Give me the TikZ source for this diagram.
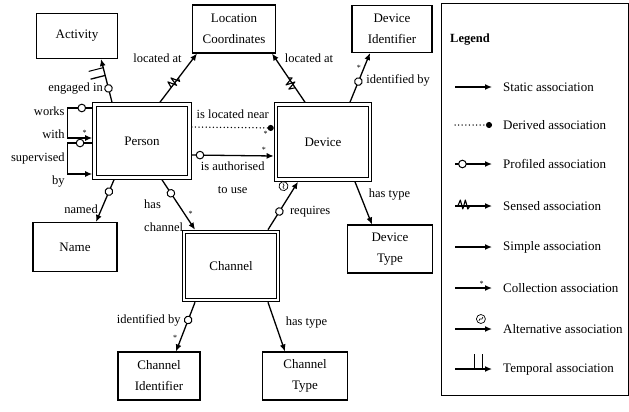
\documentclass[tikz,border=0pt]{standalone}
\usepackage{fontspec}
\setmainfont{Liberation Serif}
\usetikzlibrary{arrows.meta,positioning,decorations.markings}

\begin{document}
\begin{tikzpicture}[x=1pt, y=-1pt,
  ent/.style={rectangle, draw, line width=1.1pt, align=center, inner sep=1pt, font=\fontsize{13}{21}\selectfont},
  mainent/.style={ent, double, double distance=2.2pt, line width=1.2pt, outer sep=2.3pt},
  lbl/.style={inner sep=1pt, align=center, font=\fontsize{12.5}{23}\selectfont},
  many/.style={inner sep=0.5pt, font=\footnotesize},
  assoc/.style={line width=1.3pt, -{Latex[length=7pt,width=6pt]}},
  derived/.style={line width=1.5pt, line cap=round, dash pattern=on 0pt off 3.6pt, -{Circle[length=6pt]}},
  prof/.style={postaction={decorate, decoration={markings, mark=at position #1 with {\draw[-, solid, line width=1pt, fill=white] (0pt,0pt) circle (3.8pt);}}}},
  sensed/.style={postaction={decorate, decoration={markings, mark=at position #1 with {\draw[-, solid, line width=1.1pt, line join=round] (-9pt,0pt) -- (-6.5pt,6pt) -- (-4pt,-3pt) -- (-1.5pt,6pt) -- (1pt,-3pt) -- (3pt,0pt);}}}},
  alt/.style={postaction={decorate, decoration={markings, mark=at position #1 with {\draw[-, solid, line width=0.7pt, fill=white] (0pt,10pt) circle (4.5pt); \draw[-, solid, line width=0.6pt] (-2pt,8pt) .. controls (-1pt,13pt) and (1pt,7pt) .. (2pt,12pt);}}}},
  temporal/.style={postaction={decorate, decoration={markings, mark=at position #1 with {\draw[-, solid, line width=1.3pt] (-8pt,0pt) -- (-8pt,15pt); \draw[-, solid, line width=1pt] (0pt,15pt) -- (0pt,0pt);}}}},
  legtxt/.style={inner sep=1pt, font=\fontsize{13}{15}\selectfont}
]
\useasboundingbox (0,0) rectangle (629,412);

% entities
\node[ent, minimum width=81, minimum height=45] (activity) at (77,36) {Activity};
\node[ent, minimum width=83, minimum height=48] (locc) at (234,29) {Location\\Coordinates};
\node[ent, minimum width=80, minimum height=47] (devid) at (392,29) {Device\\Identifier};
\node[mainent, minimum width=95, minimum height=73] (person) at (142,141) {Person};
\node[mainent, minimum width=94, minimum height=75] (device) at (323,142) {Device};
\node[ent, minimum width=84, minimum height=49] (name) at (75,247) {Name};
\node[mainent, minimum width=94, minimum height=68] (channel) at (231,266) {Channel};
\node[ent, minimum width=85, minimum height=48] (devtype) at (390,249) {Device\\Type};
\node[ent, minimum width=82, minimum height=48] (chid) at (159,376) {Channel\\Identifier};
\node[ent, minimum width=85, minimum height=48] (chtype) at (305,376) {Channel\\Type};

% associations
\draw[assoc, prof=.32, temporal=.8] ([xshift=-30]person.north) -- node[lbl, pos=.32, left=4pt] {engaged in} ([xshift=24]activity.south);
\draw[assoc, prof=.13] ([yshift=33]person.west) -- ++(-25,0) |- node[lbl, pos=.25, left=1pt, align=right] {works\\with} node[many, pos=.85, above=1pt] {*} ([yshift=3]person.west);
\draw[assoc, prof=.15] ([yshift=-2]person.west) -- ++(-25,0) |- node[lbl, pos=.43, left=1pt, align=right] {supervised\\by} ([yshift=-33]person.west);
\draw[assoc, sensed=.45] ([xshift=18]person.north) -- node[lbl, pos=.9, left=10pt] {located at} ([xshift=-37]locc.south);
\draw[assoc, sensed=.45] ([xshift=-18]device.north) -- node[lbl, pos=.9, right=8pt] {located at} ([xshift=38]locc.south);
\draw[assoc, prof=.42] ([xshift=27]device.north) -- node[many, pos=.7, left=2pt] {*} node[lbl, pos=.44, right=6pt] {identified by} ([xshift=-22]devid.south);
\draw[derived] ([yshift=14]person.east) -- node[lbl, above=7pt] {is located near} node[many, pos=.9, below=2pt] {*} ([yshift=14]device.west);
\draw[assoc, prof=.1] ([yshift=-14]person.east) -- node[lbl, below=5pt] {is authorised\\to use} node[many, pos=.88, above=2pt] {*} ([yshift=-14]device.west);
\draw[assoc, prof=.28] ([xshift=-28]person.south) -- node[lbl, pos=.7, left=2pt] {named} ([xshift=21]name.north);
\draw[assoc, prof=.27] ([xshift=20]person.south) -- node[lbl, pos=.72, left=1pt, align=left] {has\\channel} node[many, pos=.68, right=3pt] {*} ([xshift=-36]channel.north);
\draw[assoc, prof=.38, alt=.8] ([xshift=37]channel.north) -- node[lbl, pos=.38, right=9pt] {requires} ([xshift=-25]device.south);
\draw[assoc] ([xshift=32]device.south) -- node[lbl, pos=.3, right=7pt] {has type} ([xshift=-18]devtype.north);
\draw[assoc, prof=.36] ([xshift=-36]channel.south) -- node[lbl, pos=.36, left=6pt] {identified by} node[many, pos=.72, left=3pt] {*} ([xshift=17]chid.north);
\draw[assoc] ([xshift=37]channel.south) -- node[lbl, pos=.42, right=9pt] {has type} ([xshift=-20]chtype.north);

% legend
\node[draw, line width=1pt, minimum width=187, minimum height=391, inner sep=0pt] (legbox) at (534.5,199.5) {};
\node[anchor=west, inner sep=1pt, font=\bfseries\fontsize{12.5}{14}\selectfont] (legtitle) at (449,40) {Legend};

\coordinate (s1) at (455,87);  \coordinate (e1) at (492,87);
\coordinate (s2) at (455,125); \coordinate (e2) at (492,125);
\coordinate (s3) at (455,164); \coordinate (e3) at (492,164);
\coordinate (s4) at (455,206); \coordinate (e4) at (492,206);
\coordinate (s5) at (455,247); \coordinate (e5) at (492,247);
\coordinate (s6) at (455,288); \coordinate (e6) at (492,288);
\coordinate (s7) at (455,329); \coordinate (e7) at (492,329);
\coordinate (s8) at (455,369); \coordinate (e8) at (492,369);

\draw[assoc] (s1) -- (e1);
\draw[derived] (s2) -- (e2);
\draw[assoc, prof=.2] (s3) -- (e3);
\draw[assoc, sensed=.32] (s4) -- (e4);
\draw[assoc] (s5) -- (e5);
\draw[assoc] (s6) -- node[many, pos=.72, above=0pt] {*} (e6);
\draw[assoc, alt=.7] (s7) -- (e7);
\draw[assoc, temporal=.75] (s8) -- (e8);

\node[legtxt, right=10pt of e1] (t1) {Static association};
\node[legtxt, right=10pt of e2] (t2) {Derived association};
\node[legtxt, right=10pt of e3] (t3) {Profiled association};
\node[legtxt, right=10pt of e4] (t4) {Sensed association};
\node[legtxt, right=10pt of e5] (t5) {Simple association};
\node[legtxt, right=10pt of e6] (t6) {Collection association};
\node[legtxt, right=10pt of e7] (t7) {Alternative association};
\node[legtxt, right=10pt of e8] (t8) {Temporal association};
\end{tikzpicture}
\end{document}
